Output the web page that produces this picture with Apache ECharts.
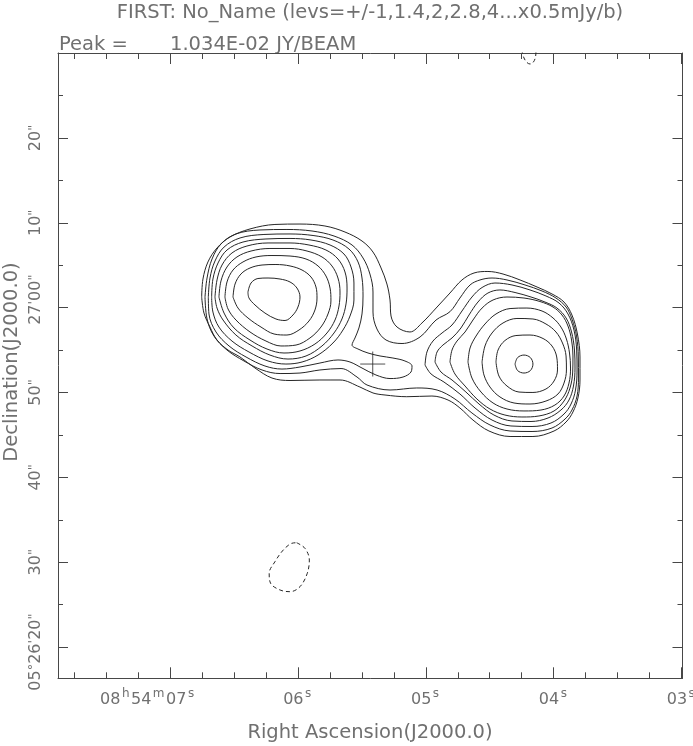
<!DOCTYPE html>
<html><head><meta charset="utf-8">
<script src="https://cdn.jsdelivr.net/npm/echarts@6/dist/echarts.min.js"></script>
<style>html,body{margin:0;padding:0;background:#fff}#c{width:693px;height:746px}</style>
</head><body><div id="c"></div>
<script>
// ---------------- data (RA in seconds of 08h54m, Dec in arcsec offset from +05d27'00") ----------------
const titleText = 'FIRST: No_Name (levs=+/-1,1.4,2,2.8,4...x0.5mJy/b)';
const peakLabel = 'Peak =';
const peakValue = '1.034E-02 JY/BEAM';
const xAxisTitle = 'Right Ascension(J2000.0)';
const yAxisTitle = 'Declination(J2000.0)';

const raMajorTicks = [3, 4, 5, 6, 7];
const raMinorTicks = [3.25, 3.5, 3.75, 4.25, 4.5, 4.75, 5.25, 5.5, 5.75, 6.25, 6.5, 6.75, 7.25, 7.5, 7.75];
const raTickLabels = [['03','s'], ['04','s'], ['05','s'], ['06','s'], ['08','h','54','m','07','s']];
const decMajorTicks = [-40, -30, -20, -10, 0, 10, 20];
const decMinorTicks = [-35, -25, -15, -5, 5, 15, 25];
const decTickLabels = ['05°26\'20"', '30"', '40"', '50"', '27\'00"', '10"', '20"'];

const crossPos = [5.415, -6.64];

// contour levels (x 0.5 mJy/beam): +1 and +1.4 enclose both lobes
const contour1 = [[6.753,1.26],[6.743,3.38],[6.704,5.39],[6.633,7.04],[6.532,8.33],[6.375,9.28],[6.180,9.81],[5.984,9.86],[5.789,9.63],[5.632,8.92],[5.499,7.86],[5.413,6.56],[5.350,4.68],[5.304,2.79],[5.280,0.91],[5.272,-0.98],[5.225,-2.28],[5.124,-2.86],[5.030,-1.80],[4.912,0.08],[4.811,1.73],[4.717,3.27],[4.623,4.09],[4.514,4.27],[4.396,3.97],[4.263,3.27],[4.130,2.44],[4.013,1.62],[3.919,0.67],[3.857,-0.86],[3.814,-3.10],[3.794,-5.81],[3.794,-8.52],[3.810,-10.64],[3.849,-12.29],[3.903,-13.47],[3.997,-14.53],[4.162,-15.18],[4.341,-15.18],[4.506,-14.53],[4.631,-13.24],[4.733,-11.82],[4.826,-10.88],[4.952,-10.41],[5.149,-10.49],[5.319,-10.29],[5.413,-10.05],[5.515,-9.35],[5.671,-8.52],[5.828,-8.52],[6.062,-8.58],[6.203,-8.29],[6.336,-7.11],[6.453,-5.81],[6.547,-4.99],[6.633,-3.81],[6.688,-2.28],[6.735,-0.63]];
const contour1p4 = [[6.727,1.26],[6.711,3.50],[6.672,5.74],[6.602,7.51],[6.485,8.69],[6.297,9.16],[6.086,9.22],[5.890,9.04],[5.718,8.45],[5.577,7.39],[5.491,5.86],[5.437,3.97],[5.413,1.85],[5.413,-0.51],[5.382,-2.51],[5.311,-3.81],[5.186,-4.22],[5.045,-3.45],[4.920,-1.45],[4.811,-0.47],[4.733,1.14],[4.654,2.68],[4.576,3.27],[4.482,3.50],[4.365,3.27],[4.224,2.68],[4.091,1.97],[3.982,1.14],[3.903,0.08],[3.857,-1.33],[3.821,-3.34],[3.807,-5.81],[3.806,-8.29],[3.817,-10.41],[3.857,-12.06],[3.911,-13.12],[4.013,-14.18],[4.169,-14.59],[4.341,-14.53],[4.498,-13.82],[4.639,-12.41],[4.772,-10.76],[4.912,-9.70],[5.071,-9.46],[5.280,-9.70],[5.460,-9.11],[5.538,-8.17],[5.663,-7.17],[5.828,-7.34],[5.984,-7.70],[6.140,-7.76],[6.281,-7.34],[6.422,-6.28],[6.555,-4.99],[6.657,-3.34],[6.711,-1.33]];

// east (left) lobe
const eastLobe2 = [[6.701,1.26],[6.688,3.50],[6.649,5.50],[6.578,7.15],[6.453,8.22],[6.266,8.63],[6.062,8.69],[5.882,8.51],[5.726,7.98],[5.601,6.92],[5.530,5.39],[5.499,3.50],[5.491,1.38],[5.499,-0.74],[5.523,-2.39],[5.554,-3.57],[5.577,-4.40],[5.530,-4.87],[5.452,-5.34],[5.358,-5.69],[5.257,-5.93],[5.163,-6.28],[5.108,-6.87],[5.116,-7.58],[5.178,-8.17],[5.280,-8.35],[5.390,-7.93],[5.499,-7.11],[5.593,-6.40],[5.687,-6.16],[5.828,-6.52],[5.984,-6.99],[6.125,-7.23],[6.258,-6.87],[6.406,-5.81],[6.539,-4.51],[6.641,-2.86],[6.696,-0.74]];
const eastLobe2p8 = [[6.675,1.26],[6.665,3.38],[6.625,5.27],[6.555,6.80],[6.430,7.74],[6.250,8.10],[6.062,8.16],[5.898,7.98],[5.749,7.39],[5.640,6.33],[5.585,4.80],[5.562,2.91],[5.562,0.91],[5.593,-0.98],[5.648,-2.63],[5.726,-4.16],[5.843,-5.58],[5.968,-6.40],[6.094,-6.64],[6.234,-6.28],[6.383,-5.22],[6.516,-3.93],[6.618,-2.28],[6.665,-0.51]];
const eastLobe4 = [[6.649,1.26],[6.633,3.27],[6.594,5.03],[6.516,6.45],[6.399,7.27],[6.234,7.63],[6.062,7.63],[5.914,7.39],[5.781,6.80],[5.687,5.74],[5.632,4.21],[5.616,2.32],[5.624,0.44],[5.656,-1.33],[5.718,-2.98],[5.812,-4.51],[5.937,-5.69],[6.078,-6.05],[6.219,-5.58],[6.359,-4.51],[6.485,-3.22],[6.586,-1.45],[6.633,-0.04]];
const eastLobe5p6 = [[6.618,1.26],[6.602,3.15],[6.555,4.80],[6.477,5.98],[6.367,6.68],[6.219,6.98],[6.062,6.98],[5.929,6.68],[5.812,5.98],[5.734,4.92],[5.687,3.50],[5.671,1.85],[5.679,0.20],[5.710,-1.45],[5.773,-2.98],[5.867,-4.28],[5.984,-5.10],[6.109,-5.34],[6.242,-4.87],[6.375,-3.81],[6.500,-2.39],[6.578,-0.63]];
const eastLobe8 = [[6.571,1.26],[6.555,3.03],[6.508,4.44],[6.430,5.39],[6.328,5.98],[6.203,6.15],[6.062,6.09],[5.937,5.74],[5.843,4.92],[5.781,3.74],[5.749,2.32],[5.742,0.79],[5.765,-0.74],[5.820,-2.28],[5.906,-3.57],[6.015,-4.40],[6.133,-4.51],[6.250,-3.93],[6.375,-2.86],[6.485,-1.45],[6.547,-0.15]];
const eastLobe11p3 = [[6.508,1.26],[6.492,2.79],[6.446,3.97],[6.375,4.68],[6.281,5.03],[6.172,5.09],[6.062,4.92],[5.968,4.44],[5.898,3.62],[5.859,2.44],[5.851,1.14],[5.867,-0.27],[5.914,-1.57],[5.992,-2.63],[6.086,-3.22],[6.187,-3.10],[6.289,-2.28],[6.391,-1.21],[6.469,-0.04]];
const eastLobe16 = [[6.391,1.85],[6.367,2.91],[6.313,3.44],[6.234,3.50],[6.140,3.38],[6.062,3.03],[6.008,2.32],[5.984,1.26],[6.000,0.08],[6.039,-0.86],[6.101,-1.51],[6.172,-1.33],[6.258,-0.63],[6.336,0.32],[6.383,1.14]];

// west (right) lobe
const westLobe2 = [[5.006,-6.75],[4.991,-5.22],[4.944,-3.93],[4.873,-2.98],[4.795,-2.04],[4.717,-0.39],[4.639,1.26],[4.560,2.38],[4.459,2.91],[4.326,2.68],[4.185,2.09],[4.060,1.38],[3.958,0.55],[3.888,-0.74],[3.841,-2.63],[3.820,-4.99],[3.817,-7.34],[3.829,-9.70],[3.864,-11.35],[3.919,-12.53],[4.021,-13.59],[4.169,-14.00],[4.334,-13.94],[4.482,-13.24],[4.615,-11.82],[4.733,-10.17],[4.858,-8.76],[4.959,-7.81]];
const westLobe2p8 = [[4.928,-6.40],[4.912,-5.22],[4.866,-4.40],[4.795,-3.57],[4.725,-2.39],[4.662,-0.86],[4.592,0.67],[4.514,1.73],[4.420,2.09],[4.302,1.79],[4.177,1.26],[4.068,0.67],[3.974,-0.04],[3.903,-1.21],[3.860,-2.86],[3.837,-4.99],[3.833,-7.11],[3.845,-9.23],[3.880,-10.88],[3.943,-12.06],[4.044,-13.00],[4.177,-13.41],[4.326,-13.35],[4.467,-12.65],[4.584,-11.35],[4.686,-9.94],[4.795,-8.52],[4.881,-7.58]];
const westLobe4 = [[4.811,-6.40],[4.795,-4.99],[4.756,-3.93],[4.693,-2.86],[4.631,-1.45],[4.560,-0.04],[4.474,0.91],[4.365,1.26],[4.232,1.14],[4.107,0.73],[4.005,0.08],[3.935,-0.86],[3.888,-2.16],[3.860,-3.81],[3.849,-5.69],[3.851,-7.58],[3.872,-9.46],[3.919,-11.00],[3.997,-12.17],[4.115,-12.76],[4.248,-12.88],[4.381,-12.65],[4.498,-11.94],[4.600,-10.76],[4.693,-9.23],[4.772,-7.81]];
const westLobe5p6 = [[4.670,-6.40],[4.654,-4.75],[4.607,-3.34],[4.537,-1.92],[4.451,-0.74],[4.341,-0.10],[4.209,-0.04],[4.091,-0.39],[4.005,-1.21],[3.943,-2.28],[3.900,-3.69],[3.876,-5.34],[3.868,-7.11],[3.880,-8.88],[3.919,-10.41],[3.990,-11.47],[4.099,-12.06],[4.232,-12.17],[4.365,-11.94],[4.474,-11.23],[4.568,-9.94],[4.639,-8.29]];
const westLobe8 = [[4.560,-6.40],[4.537,-4.51],[4.482,-2.98],[4.396,-1.80],[4.287,-1.27],[4.162,-1.33],[4.060,-1.92],[3.982,-2.86],[3.931,-4.16],[3.903,-5.69],[3.900,-7.34],[3.919,-8.88],[3.966,-10.17],[4.060,-11.00],[4.185,-11.35],[4.310,-11.23],[4.420,-10.52],[4.498,-9.35],[4.545,-7.93]];
const westLobe11p3 = [[4.451,-6.40],[4.435,-4.99],[4.381,-3.87],[4.295,-3.28],[4.185,-3.22],[4.083,-3.63],[4.013,-4.51],[3.976,-5.81],[3.970,-7.34],[3.997,-8.64],[4.060,-9.58],[4.162,-9.99],[4.271,-9.94],[4.365,-9.23],[4.428,-8.05]];
const westLobe16 = [[4.302,-6.64],[4.282,-5.88],[4.232,-5.58],[4.182,-5.88],[4.162,-6.64],[4.182,-7.41],[4.232,-7.70],[4.282,-7.41]];

// negative (-1) contours, dashed
const negativeSouth = [[6.010,-27.70],[5.945,-28.36],[5.911,-29.74],[5.927,-31.30],[5.984,-32.88],[6.062,-33.47],[6.140,-33.27],[6.214,-32.48],[6.225,-31.30],[6.180,-29.94],[6.115,-28.56],[6.049,-27.77]];
const negativeNorth = [[4.250,30.4],[4.232,29.43],[4.209,28.90],[4.185,28.72],[4.158,28.96],[4.142,29.55],[4.138,30.4]];

// ---------------- layout / style ----------------
const RA_MIN = 2.9922, RA_MAX = 7.8768;
const DEC_MIN = -43.677, DEC_MAX = 30.018;
const FONT = '"DejaVu Sans", "Liberation Sans", sans-serif';
const TXT = '#707070';
const INK = '#262626';
const AX = '#474747';

const closedSets = [contour1, contour1p4, eastLobe2, eastLobe2p8, eastLobe4, eastLobe5p6, eastLobe8, eastLobe11p3, eastLobe16,
  westLobe2, westLobe2p8, westLobe4, westLobe5p6, westLobe8, westLobe11p3, westLobe16];

function loop(p) { return p.concat([p[0]]); }

function raAxis(pos, ticks, len, withLabels, withLine) {
  const ax = {
    type: 'value', position: pos, min: RA_MIN, max: RA_MAX, inverse: true, gridIndex: 0,
    axisLine: { show: withLine, onZero: false, lineStyle: { color: AX, width: 1 } },
    splitLine: { show: false },
    axisTick: { show: true, inside: true, length: len, customValues: ticks, lineStyle: { color: AX, width: 1 } },
    axisLabel: { show: false }
  };
  if (withLabels) {
    ax.axisLabel = {
      show: true, customValues: ticks, margin: 10, hideOverlap: false,
      formatter: function (v) {
        const parts = raTickLabels[raMajorTicks.indexOf(v)];
        let s = '';
        parts.forEach(function (p, i) {
          const sup = i % 2 === 1;
          const last = i === parts.length - 1 && parts.length > 2;
          s += '{' + (sup ? (last ? 'e' : 's') : 'n') + '|' + p + '}';
        });
        return s;
      },
      rich: {
        n: { fontSize: 16, fontFamily: FONT, color: TXT, lineHeight: 24 },
        s: { fontSize: 12, fontFamily: FONT, color: TXT, lineHeight: 10, verticalAlign: 'top', padding: [0, 1.5, 0, 1.5] },
        e: { fontSize: 12, fontFamily: FONT, color: TXT, lineHeight: 10, verticalAlign: 'top', padding: [0, 46, 0, 1.5] }
      }
    };
  }
  return ax;
}

function decLabelRich(text, v) {
  // split into digit runs and mark runs (degree / minute / second symbols)
  const runs = text.match(/[0-9]+|[^0-9]+/g);
  let s = '';
  runs.forEach(function (r, i) {
    const isNum = /[0-9]/.test(r);
    let key = isNum ? 'n' : 'q';
    if (v === 0 && i === 0) key = 'nu';
    if (v === -40 && i === runs.length - 1) key = 'qd';
    s += '{' + key + '|' + r + '}';
  });
  return s;
}

function decAxis(pos, ticks, len, withLabels, withLine) {
  const ax = {
    type: 'value', position: pos, min: DEC_MIN, max: DEC_MAX, gridIndex: 0,
    axisLine: { show: withLine, onZero: false, lineStyle: { color: AX, width: 1 } },
    splitLine: { show: false },
    axisTick: { show: true, inside: true, length: len, customValues: ticks, lineStyle: { color: AX, width: 1 } },
    axisLabel: { show: false }
  };
  if (withLabels) {
    ax.axisLabel = {
      show: true, customValues: ticks, rotate: 90, margin: 13, hideOverlap: false,
      formatter: function (v) {
        return decLabelRich(decTickLabels[decMajorTicks.indexOf(v)], v);
      },
      rich: {
        n: { fontSize: 16, fontFamily: FONT, color: TXT, lineHeight: 18 },
        nu: { fontSize: 16, fontFamily: FONT, color: TXT, lineHeight: 18, padding: [0, 0, 0, 16] },
        q: { fontSize: 13, fontFamily: FONT, color: TXT, lineHeight: 12, verticalAlign: 'top' },
        qd: { fontSize: 13, fontFamily: FONT, color: TXT, lineHeight: 12, verticalAlign: 'top', padding: [0, 10, 0, 0] }
      }
    };
  }
  return ax;
}

const series = closedSets.map(function (d) {
  return {
    type: 'line', data: loop(d), xAxisIndex: 0, yAxisIndex: 0,
    showSymbol: false, symbol: 'none', smooth: 0.35, silent: true, clip: true,
    lineStyle: { color: INK, width: 1 }
  };
});
series.push({
  type: 'line', data: loop(negativeSouth), xAxisIndex: 0, yAxisIndex: 0,
  showSymbol: false, symbol: 'none', smooth: 0.35, silent: true, clip: true,
  lineStyle: { color: INK, width: 1, type: [4, 3] }
});
series.push({
  type: 'line', data: negativeNorth, xAxisIndex: 0, yAxisIndex: 0,
  showSymbol: false, symbol: 'none', smooth: 0.35, silent: true, clip: true,
  lineStyle: { color: INK, width: 1, type: [4, 3] }
});
series.push({
  type: 'scatter', data: [crossPos], xAxisIndex: 0, yAxisIndex: 0, silent: true,
  symbol: 'path://M0,1L2,1M1,0L1,2', symbolSize: 25,
  itemStyle: { color: 'none', borderColor: INK, borderWidth: 1 }
});

const chart = echarts.init(document.getElementById('c'), null, { renderer: 'canvas' });
chart.setOption({
  animation: false,
  backgroundColor: '#fff',
  grid: { left: 58, right: 10.5, top: 53, bottom: 67.7, show: false, containLabel: false, outerBoundsMode: 'none' },
  xAxis: [
    raAxis('bottom', raMajorTicks, 11, true, true),
    raAxis('bottom', raMinorTicks, 6, false, false),
    raAxis('top', raMajorTicks, 11, false, true),
    raAxis('top', raMinorTicks, 6, false, false)
  ],
  yAxis: [
    decAxis('left', decMajorTicks, 10, true, true),
    decAxis('left', decMinorTicks, 5, false, false),
    decAxis('right', decMajorTicks, 10, false, true),
    decAxis('right', decMinorTicks, 5, false, false)
  ],
  graphic: [
    { type: 'text', x: 370, y: 13, style: { text: titleText, font: '19.5px ' + FONT, fill: TXT, align: 'center', verticalAlign: 'middle' } },
    { type: 'text', x: 59, y: 45, style: { text: peakLabel, font: '19.5px ' + FONT, fill: TXT, align: 'left', verticalAlign: 'middle' } },
    { type: 'text', x: 170, y: 45, style: { text: peakValue, font: '19.5px ' + FONT, fill: TXT, align: 'left', verticalAlign: 'middle' } },
    { type: 'text', x: 370, y: 733, style: { text: xAxisTitle, font: '19.5px ' + FONT, fill: TXT, align: 'center', verticalAlign: 'middle' } },
    { type: 'text', x: 12, y: 362, rotation: Math.PI / 2, style: { text: yAxisTitle, font: '19.5px ' + FONT, fill: TXT, align: 'center', verticalAlign: 'middle' } }
  ],
  series: series
});
</script>
</body></html>
